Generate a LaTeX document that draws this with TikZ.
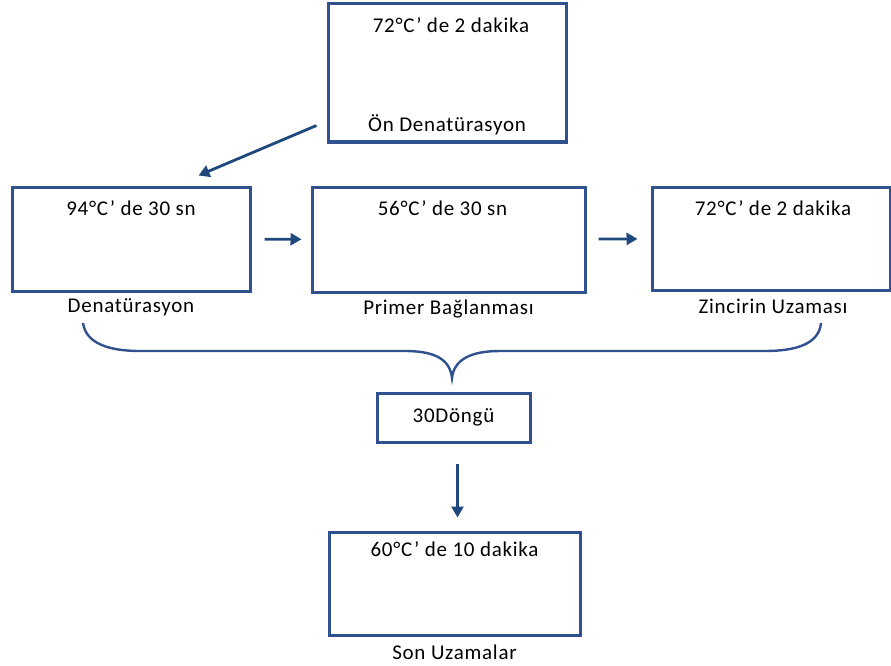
\documentclass[tikz,border=0pt]{standalone}
\usepackage{fontspec}
\setmainfont{Carlito}[LetterSpace=3.5]
\usetikzlibrary{positioning,arrows.meta}
\definecolor{boxblue}{RGB}{47,82,143}
\definecolor{arrowblue}{RGB}{31,73,125}
\begin{document}
\begin{tikzpicture}[
      x=1pt, y=-1pt,
      box_style/.style={draw=boxblue, line width=3pt, inner sep=0pt},
      text_style/.style={font=\fontsize{21}{24}\selectfont, inner sep=0pt},
      arrow_style/.style={draw=arrowblue, line width=2.8pt, -{Triangle[length=11pt, width=12pt]}},
      brace_style/.style={draw=boxblue, line width=2.4pt}
  ]
      \useasboundingbox (0,0) rectangle (891,666);

      % boxes
      \node[box_style, minimum width=238pt, minimum height=138pt] (on) at (447,73) {};
      \node[box_style, minimum width=238pt, minimum height=104pt] (den) at (131,239) {};
      \node[box_style, minimum width=273pt, minimum height=105pt] (primer) at (448.5,239.5) {};
      \node[box_style, minimum width=238pt, minimum height=103pt] (zincir) at (771,238.5) {};
      \node[box_style, minimum width=153pt, minimum height=49pt] (dongu) at (453.5,417.5) {};
      \node[box_style, minimum width=251pt, minimum height=103pt] (son) at (454.5,583.5) {};

      % texts
      \node[text_style, below=15pt of on.north, xshift=4pt] (on_temp) {72°C’ de 2 dakika};
      \node[text_style, anchor=base] (on_label) at ([yshift=12pt]on.south) {Ön Denatürasyon};
      \node[text_style, below=15pt of den.north] (den_temp) {94°C’ de 30 sn};
      \node[text_style, below=6pt of den.south] (den_label) {Denatürasyon};
      \node[text_style, below=15pt of primer.north, xshift=-6pt] (primer_temp) {56°C’ de 30 sn};
      \node[text_style, below=6pt of primer.south] (primer_label) {Primer Bağlanması};
      \node[text_style, below=15pt of zincir.north, xshift=2pt] (zincir_temp) {72°C’ de 2 dakika};
      \node[text_style, below=7pt of zincir.south, xshift=2pt] (zincir_label) {Zincirin Uzaması};
      \node[text_style] (dongu_text) at (dongu.center) {30Döngü};
      \node[text_style, below=11pt of son.north] (son_temp) {60°C’ de 10 dakika};
      \node[text_style, below=8pt of son.south] (son_label) {Son Uzamalar};

      % arrows
      \draw[arrow_style] ([shift={(-10,-18)}]on.south west) -- ([shift={(-53,-10)}]den.north east);
      \draw[arrow_style, shorten <=13pt, shorten >=9pt] (den) -- (primer);
      \draw[arrow_style, shorten <=12pt, shorten >=13pt] (primer) -- (zincir);
      \coordinate (drop) at ([xshift=4pt]dongu.south);
      \draw[arrow_style, shorten <=20pt, shorten >=13pt] (drop) -- (drop |- son.north);

      % brace
      \draw[brace_style] (83,323) .. controls (86,344) and (110,351) .. (140,351) -- (405,351)
          .. controls (436,351) and (450,360) .. (452,378)
          .. controls (454,360) and (470,351) .. (500,351) -- (765,351)
          .. controls (796,351) and (819,344) .. (821,323);
\end{tikzpicture}
\end{document}
